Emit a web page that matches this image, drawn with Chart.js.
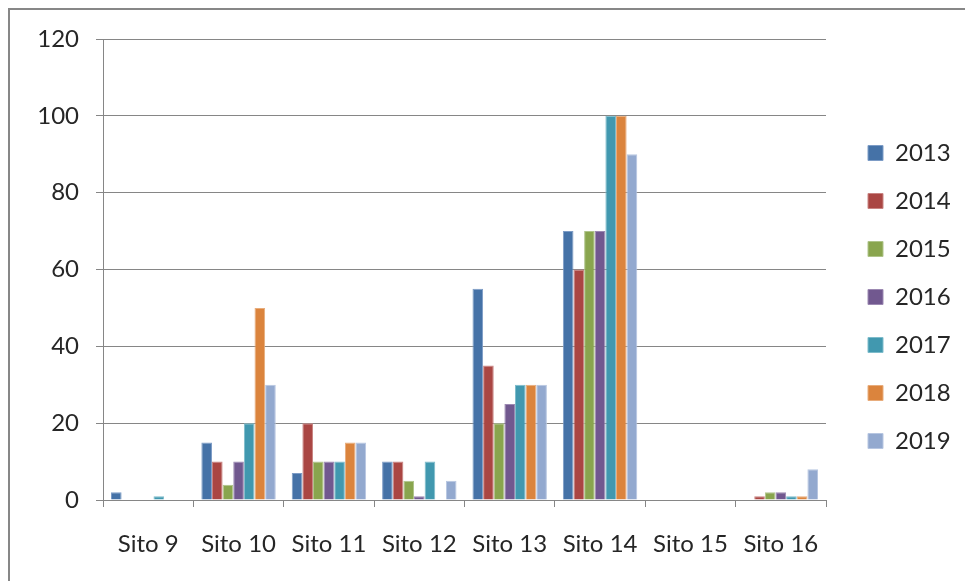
<!DOCTYPE html>
<html>
<head>
<meta charset="utf-8">
<script src="https://cdn.jsdelivr.net/npm/chart.js@4"></script>
<style>
html,body{margin:0;padding:0;background:#fff;}
#wrap{width:965px;height:581px;position:relative;}
</style>
</head>
<body>
<div id="wrap"><canvas id="c" width="965" height="581"></canvas></div>
<script>
const categories = ['Sito 9','Sito 10','Sito 11','Sito 12','Sito 13','Sito 14','Sito 15','Sito 16'];
const years = ['2013','2014','2015','2016','2017','2018','2019'];
const v2013 = [2, 15, 7, 10, 55, 70, 0, 0];
const v2014 = [0, 10, 20, 10, 35, 60, 0, 1];
const v2015 = [0, 4, 10, 5, 20, 70, 0, 2];
const v2016 = [0, 10, 10, 1, 25, 70, 0, 2];
const v2017 = [1, 20, 10, 10, 30, 100, 0, 1];
const v2018 = [0, 50, 15, 0, 30, 100, 0, 1];
const v2019 = [0, 30, 15, 5, 30, 90, 0, 8];
const yTicks = [0, 20, 40, 60, 80, 100, 120];

const seriesValues = [v2013, v2014, v2015, v2016, v2017, v2018, v2019];
const fills = ['#4572A7','#AA4643','#89A54E','#71588F','#4198AF','#DB843D','#93A9CF'];
const edges = ['#7D9CC6','#C98482','#AFC48A','#9C89B2','#7EBCCB','#E8AD7D','#B7C6E1'];

const FONT = "Lato, 'Open Sans', sans-serif";
const GRID = '#868686';
const TEXT = '#262626';

// legend sizing tweak: fixed legend width so plot area ends at the right spot
try {
  const lp = Chart.registry.getPlugin('legend');
  const L = lp && lp._element;
  if (L) {
    const origFit = L.prototype.fit;
    L.prototype.fit = function () { origFit.call(this); if (this.options.position === 'right') this.width = 139; };
  }
} catch (e) {}

const framePlugin = {
  id: 'frame',
  beforeDraw(chart) {
    const ctx = chart.ctx;
    ctx.save();
    ctx.fillStyle = '#fff';
    ctx.fillRect(0, 0, chart.width, chart.height);
    ctx.strokeStyle = '#878787';
    ctx.lineWidth = 2;
    ctx.strokeRect(9, 9, 1200, 1200);
    ctx.restore();
  },
  afterLayout(chart) {
    if (chart.legend) { chart.legend.left += 18; chart.legend.right += 18; }
  }
};

new Chart(document.getElementById('c'), {
  type: 'bar',
  data: {
    labels: categories,
    datasets: years.map((y, i) => ({
      label: y,
      data: seriesValues[i],
      backgroundColor: fills[i],
      borderColor: edges[i],
      borderWidth: 1,
      categoryPercentage: 0.8235,
      barPercentage: 1.0
    }))
  },
  options: {
    responsive: false,
    animation: false,
    events: [],
    layout: { padding: { left: 0, top: 39, right: 0, bottom: 26 } },
    plugins: {
      tooltip: { enabled: false },
      legend: {
        position: 'right',
        align: 'center',
        labels: {
          boxWidth: 15,
          boxHeight: 15,
          padding: 24,
          color: TEXT,
          font: { family: FONT, size: 24, lineHeight: 1.2 }
        }
      }
    },
    scales: {
      x: {
        offset: true,
        grid: { display: true, drawOnChartArea: false, drawTicks: true, tickLength: 7, color: GRID, offset: true },
        border: { display: true, color: GRID, width: 1 },
        ticks: { color: TEXT, font: { family: FONT, size: 24 }, padding: 23, maxRotation: 0, autoSkip: false },
        afterFit(s) { s.height = 55; }
      },
      y: {
        min: 0,
        max: 120,
        afterBuildTicks(s) { s.ticks = yTicks.map(v => ({ value: v })); },
        grid: { color: GRID, lineWidth: 1, tickLength: 7, drawTicks: true },
        border: { display: true, color: GRID, width: 1 },
        ticks: { color: TEXT, font: { family: FONT, size: 24 }, padding: 17 },
        afterFit(s) { s.width = 103; }
      }
    }
  },
  plugins: [framePlugin]
});
</script>
</body>
</html>
